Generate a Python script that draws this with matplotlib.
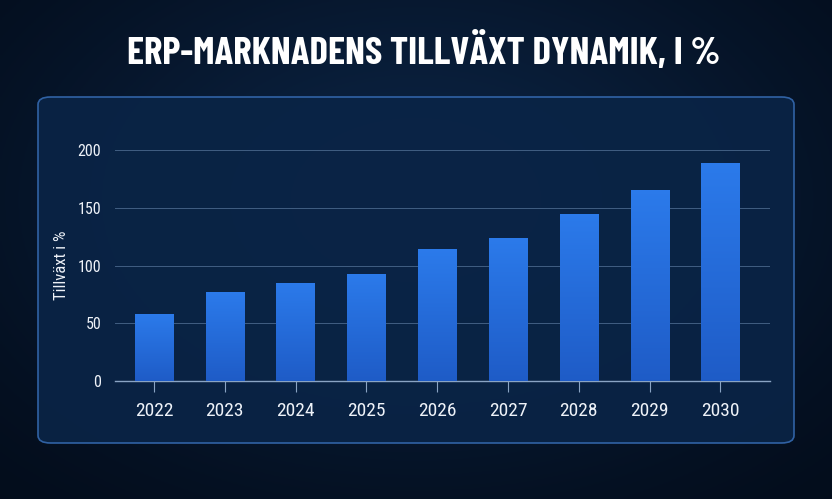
import numpy as np
import matplotlib.pyplot as plt
from matplotlib.patches import FancyBboxPatch

years = ['2022', '2023', '2024', '2025', '2026', '2027', '2028', '2029', '2030']
growth = [58, 77, 85, 93, 114, 124, 145, 165, 189]
yticks = [0, 50, 100, 150, 200]
title = 'ERP-MARKNADENS TILLVÄXT DYNAMIK, I %'
ylabel = 'Tillväxt i %'

plt.rcParams['font.family'] = ['Roboto Condensed', 'Barlow Semi Condensed', 'DejaVu Sans']

W, H = 832, 499
fig = plt.figure(figsize=(W / 100, H / 100), dpi=100)

# background: dark navy with a soft blue glow
bg = fig.add_axes([0, 0, 1, 1])
yy, xx = np.mgrid[0:1:200j, 0:1:300j]
glow = np.exp(-((xx - 0.5) ** 2 / 0.25 + (yy - 0.6) ** 2 / 0.3))
c0 = np.array([0.01, 0.04, 0.09])
c1 = np.array([0.05, 0.16, 0.30])
img = c0 + (c1 - c0) * glow[..., None] * 0.8
bg.imshow(img, extent=[0, 1, 0, 1], aspect='auto', origin='lower')
bg.set_xlim(0, 1)
bg.set_ylim(0, 1)
bg.axis('off')

# rounded panel
panel = FancyBboxPatch((38 / W, 1 - 443 / H), (794 - 38) / W, (443 - 97) / H,
                       boxstyle='round,pad=0,rounding_size=0.015',
                       transform=bg.transAxes, facecolor='#0a2446',
                       edgecolor='#3468ae', linewidth=1.2, alpha=0.92, zorder=2)
bg.add_patch(panel)

fig.text(424 / W, 1 - 51 / H, title, ha='center', va='center', color='white',
         fontsize=28, fontweight='bold',
         family=['Barlow Condensed', 'DejaVu Sans'])

ax = fig.add_axes([115 / W, 1 - 381 / H, (770 - 115) / W, (381 - 150) / H])
ax.set_facecolor('none')
x = np.arange(len(years))
bars = ax.bar(x, growth, width=0.54, color='#2170e4', zorder=3)

# vertical gradient on each bar
grad = np.linspace(0, 1, 100).reshape(-1, 1)
top = np.array([0.17, 0.48, 0.92])
bot = np.array([0.12, 0.36, 0.78])
gimg = bot + (top - bot) * grad[..., None]
for b in bars:
    bx, by = b.get_x(), b.get_y()
    im = ax.imshow(gimg, extent=[bx, bx + b.get_width(), by, by + b.get_height()],
                   origin='lower', aspect='auto', zorder=3.5)
    im.set_clip_path(b)

ax.set_xlim(-0.55, 8.7)
ax.set_ylim(0, 200)
ax.set_yticks(yticks)
ax.set_xticks(x)
ax.set_xticklabels(years)
ax.grid(axis='y', color='#6f8fb5', linewidth=0.7, alpha=0.55, zorder=1)
for s in ['top', 'right', 'left']:
    ax.spines[s].set_visible(False)
ax.spines['bottom'].set_color('#8aa4c4')
ax.spines['bottom'].set_linewidth(1)
ax.tick_params(axis='y', length=0, colors='#eef2f8', labelsize=11.5, pad=10)
ax.tick_params(axis='x', length=8, color='#8aa4c4', colors='#eef2f8', labelsize=14, pad=7)
ax.set_ylabel(ylabel, color='#eef2f8', fontsize=12, labelpad=6)

fig.savefig('out.png', dpi=100)
